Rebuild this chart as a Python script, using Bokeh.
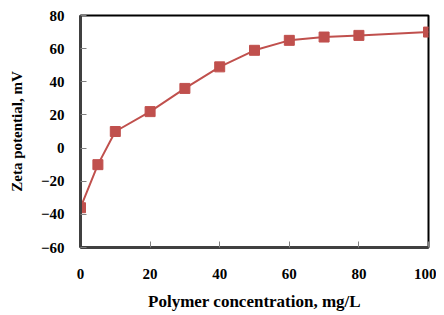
from bokeh.plotting import figure
from bokeh.embed import file_html
from bokeh.resources import INLINE
from bokeh.models import ColumnDataSource, FixedTicker

conc = [0, 5, 10, 20, 30, 40, 50, 60, 70, 80, 100]
zeta = [-36, -10, 10, 22, 36, 49, 59, 65, 67, 68, 70]
x_ticks = [0, 20, 40, 60, 80, 100]
y_ticks = [-60, -40, -20, 0, 20, 40, 60, 80]

src = ColumnDataSource(dict(x=conc, y=zeta))

p = figure(width=436, height=313, output_backend="svg", toolbar_location=None,
           x_range=(0, 100), y_range=(-60, 80),
           min_border_left=80, min_border_right=8, min_border_top=15, min_border_bottom=60)

color = "#C0504D"
p.line("x", "y", source=src, line_color=color, line_width=2)
p.scatter("x", "y", source=src, marker="square", size=10, fill_color=color, line_color=color)

p.xgrid.visible = False
p.ygrid.visible = False
p.outline_line_color = "black"
p.outline_line_width = 2

font = "Liberation Serif"
for ax in (p.xaxis, p.yaxis):
    ax.axis_line_color = "#404040"
    ax.axis_line_width = 3
    ax.major_tick_in = 6
    ax.major_tick_out = 0
    ax.major_tick_line_color = "#808080"
    ax.minor_tick_line_color = None
    ax.major_label_text_font = font
    ax.major_label_text_font_style = "bold"
    ax.major_label_text_font_size = "15px"
    ax.major_label_text_color = "black"
    ax.axis_label_text_font = font
    ax.axis_label_text_font_style = "bold"
    ax.axis_label_text_color = "black"

p.xaxis.axis_label_text_font_size = "17px"
p.yaxis.axis_label_text_font_size = "15px"
p.xaxis.ticker = FixedTicker(ticks=x_ticks)
p.yaxis.ticker = FixedTicker(ticks=y_ticks)
p.xaxis.axis_label = "Polymer concentration, mg/L"
p.yaxis.axis_label = "Zeta potential, mV"
p.xaxis.major_label_standoff = 21
p.yaxis.major_label_standoff = 16
p.xaxis.axis_label_standoff = 10
p.yaxis.axis_label_standoff = 13

open("out.html", "w").write(file_html(p, INLINE))
